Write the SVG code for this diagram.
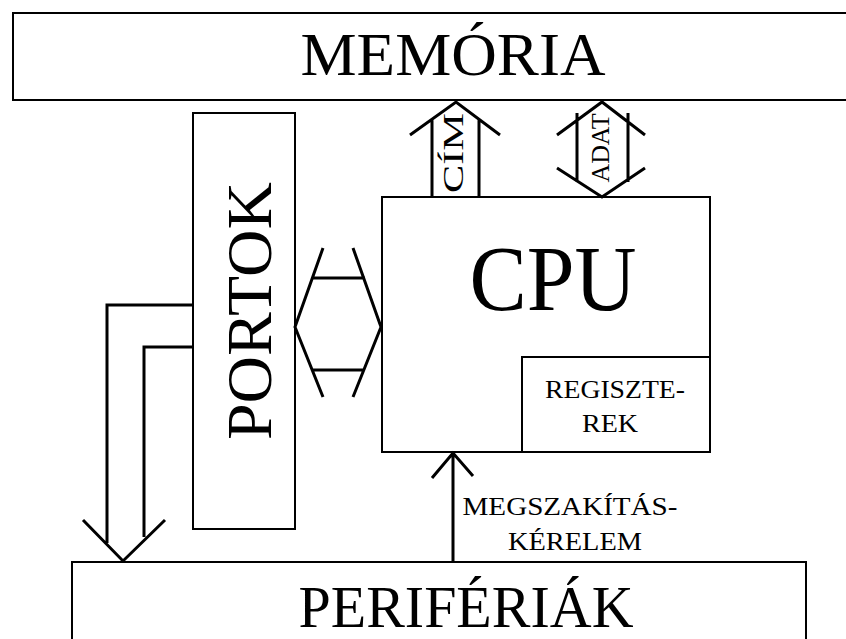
<svg xmlns="http://www.w3.org/2000/svg" width="846" height="639" viewBox="0 0 846 639">
<style>
.box{fill:#fff;stroke:#000;stroke-width:2}
.ln{fill:none;stroke:#000;stroke-width:3}
.t{font-family:"Liberation Serif","Times New Roman",serif;fill:#000}
</style>
<rect width="846" height="639" fill="#fff"/>
<g id="memoria">
<rect class="box" x="13" y="13" width="845" height="87"/>
<text class="t" x="453" y="75" font-size="62" text-anchor="middle" textLength="305" lengthAdjust="spacingAndGlyphs">MEMÓRIA</text>
</g>
<g id="portok">
<rect class="box" x="193" y="113" width="102" height="416"/>
<text class="t" transform="translate(271,311) rotate(-90)" font-size="63" text-anchor="middle" textLength="258" lengthAdjust="spacingAndGlyphs">PORTOK</text>
</g>
<g id="cpu">
<rect class="box" x="382" y="197" width="328" height="255"/>
<text class="t" x="553" y="310" font-size="94" text-anchor="middle" textLength="167" lengthAdjust="spacingAndGlyphs">CPU</text>
</g>
<g id="regiszterek">
<rect class="box" x="522" y="357" width="188" height="95"/>
<text class="t" x="615" y="398" font-size="26" text-anchor="middle" textLength="140" lengthAdjust="spacingAndGlyphs">REGISZTE-</text>
<text class="t" x="610" y="432" font-size="26" text-anchor="middle" textLength="56" lengthAdjust="spacingAndGlyphs">REK</text>
</g>
<g id="periferiak">
<rect class="box" x="72" y="562" width="734" height="90"/>
<text class="t" x="466" y="627" font-size="60" text-anchor="middle" textLength="335" lengthAdjust="spacingAndGlyphs">PERIFÉRIÁK</text>
</g>
<g id="connectors">
<g id="cim-bus">
<path class="ln" d="M410,135 L456,102 L500,135 M432,120 V197 M479,120 V197"/>
<text class="t" transform="translate(463,153) rotate(-90)" font-size="30" text-anchor="middle" textLength="80" lengthAdjust="spacingAndGlyphs">CÍM</text>
</g>
<g id="adat-bus">
<path class="ln" d="M557,135 L602,102 L645,135 M557,168 L602,197 L645,168 M577,113 V182 M628,113 V182"/>
<text class="t" transform="translate(609,148) rotate(-90)" font-size="25" text-anchor="middle" textLength="69" lengthAdjust="spacingAndGlyphs">ADAT</text>
</g>
<g id="port-cpu-bus">
<path class="ln" d="M323,248 L295,327 L323,397 M353,248 L381,327 L353,397 M312,278 H365 M313,370 H364"/>
</g>
<g id="port-periph-bus">
<path class="ln" d="M193,305 H107 V543 M193,347 H144 V537 M83,520 L123,561 L165,520"/>
</g>
<g id="interrupt">
<path class="ln" d="M453,562 V453 M432,478 L453,453 L473,476"/>
<text class="t" x="570" y="515" font-size="26" text-anchor="middle" textLength="215" lengthAdjust="spacingAndGlyphs">MEGSZAKÍTÁS-</text>
<text class="t" x="575" y="550" font-size="26" text-anchor="middle" textLength="134" lengthAdjust="spacingAndGlyphs">KÉRELEM</text>
</g>
</g>
</svg>
